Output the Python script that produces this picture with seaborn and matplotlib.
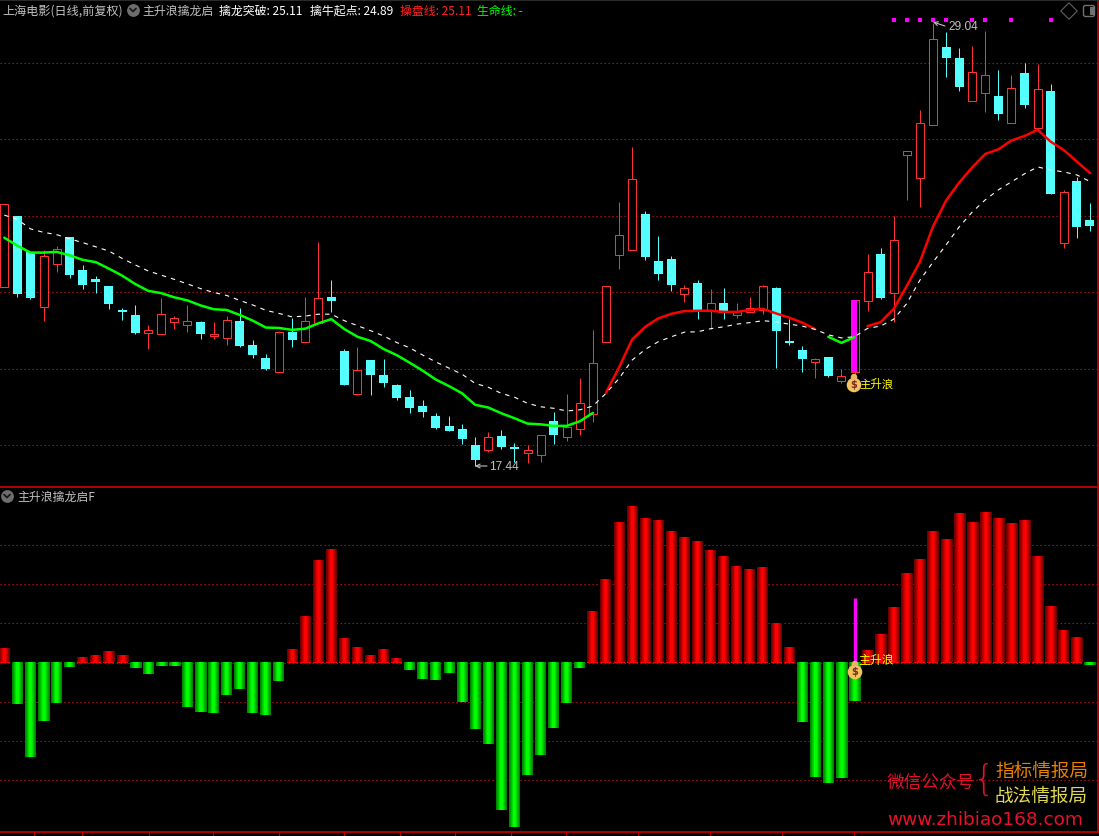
import numpy as np
import pandas as pd
import matplotlib
matplotlib.use('Agg')
import matplotlib.pyplot as plt
from matplotlib.colors import LinearSegmentedColormap
from matplotlib.patches import FancyBboxPatch, Rectangle
import seaborn as sns

# Daily candles
open_px = [22.14, 23.99, 23.05, 21.62, 22.74, 23.43, 22.58, 22.34, 22.16, 21.53, 21.40, 20.94,
           20.91, 21.22, 21.15, 21.22, 20.85, 20.81, 21.24, 20.61, 20.27, 19.92, 20.95, 20.70,
           21.18, 21.87, 20.46, 19.34, 20.22, 19.83, 19.57, 19.25, 19.02, 18.76, 18.50, 18.42,
           18.00, 17.87, 18.24, 17.95, 17.80, 17.75, 18.63, 18.22, 18.43, 18.82, 20.70, 22.98,
           23.11, 24.04, 22.81, 22.86, 21.96, 22.24, 21.50, 21.70, 21.41, 21.48, 21.53, 22.10,
           20.72, 20.48, 20.18, 20.30, 19.68, 19.90, 21.77, 22.99, 21.98, 25.59, 24.99, 26.37,
           28.41, 28.12, 27.00, 27.21, 27.12, 26.43, 27.73, 26.30, 27.25, 23.29, 24.90, 23.88]
close_px = [24.29, 21.95, 21.84, 22.93, 23.12, 22.44, 22.18, 22.26, 21.69, 21.48, 20.93, 21.01,
            21.42, 21.31, 21.23, 20.90, 20.90, 21.26, 20.59, 20.35, 19.99, 20.95, 20.75, 21.23,
            21.84, 21.76, 19.57, 19.95, 19.83, 19.62, 19.23, 18.97, 18.86, 18.44, 18.37, 18.16,
            17.61, 18.20, 17.95, 17.90, 17.86, 18.25, 18.26, 18.46, 19.09, 20.14, 22.15, 23.48,
            24.95, 22.92, 22.47, 22.18, 22.10, 21.51, 21.70, 21.46, 21.50, 21.57, 22.15, 20.98,
            20.67, 20.25, 20.25, 19.80, 19.80, 21.78, 22.52, 21.84, 23.35, 25.68, 26.41, 28.61,
            28.12, 27.36, 27.74, 27.67, 26.65, 27.33, 26.89, 27.30, 24.56, 24.61, 23.70, 23.73]
high_px = [24.29, 23.99, 23.05, 23.10, 23.20, 23.44, 22.71, 22.42, 22.16, 21.58, 21.66, 21.14,
           21.84, 21.37, 21.66, 21.24, 21.22, 21.37, 21.58, 20.75, 20.38, 20.98, 21.32, 21.87,
           23.31, 22.31, 20.51, 20.56, 20.22, 20.25, 19.59, 19.44, 19.18, 18.84, 18.76, 18.55,
           18.21, 18.34, 18.39, 18.05, 18.00, 18.25, 18.86, 19.33, 19.75, 21.01, 22.15, 24.35,
           25.79, 24.12, 23.46, 22.94, 22.18, 22.31, 22.08, 22.10, 21.71, 21.87, 22.18, 22.13,
           21.29, 20.59, 20.27, 20.30, 19.99, 21.78, 22.99, 23.15, 23.99, 25.68, 26.76, 29.04,
           28.80, 28.38, 28.43, 28.82, 27.80, 27.67, 27.99, 27.96, 27.44, 24.67, 25.01, 24.33]
low_px = [22.14, 21.88, 21.82, 21.25, 22.53, 22.37, 22.08, 21.97, 21.56, 21.27, 20.90, 20.51,
          20.91, 21.03, 20.95, 20.77, 20.77, 20.61, 20.56, 20.27, 19.96, 19.92, 20.56, 20.70,
          21.18, 21.48, 19.57, 19.32, 19.31, 19.52, 19.18, 18.84, 18.73, 18.42, 18.37, 18.03,
          17.44, 17.82, 17.90, 17.56, 17.53, 17.56, 18.03, 18.10, 18.26, 18.60, 20.70, 22.60,
          23.11, 22.84, 22.31, 22.03, 21.74, 21.29, 21.03, 21.29, 21.33, 21.48, 21.42, 20.01,
          20.61, 19.91, 19.75, 19.78, 19.62, 19.70, 21.50, 21.82, 21.22, 24.41, 24.23, 26.37,
          27.62, 27.25, 27.00, 26.71, 26.50, 26.43, 26.81, 26.30, 24.56, 23.15, 23.41, 23.59]

# 操盘线 (solid) and 擒牛起点 (dashed)
trade_line = [23.42, 23.21, 23.03, 23.03, 23.05, 22.96, 22.84, 22.78, 22.61, 22.43, 22.21, 22.03,
              21.97, 21.86, 21.78, 21.65, 21.55, 21.53, 21.40, 21.25, 21.07, 21.06, 21.01, 21.04,
              21.18, 21.29, 21.03, 20.83, 20.72, 20.51, 20.35, 20.15, 19.94, 19.71, 19.54, 19.35,
              19.05, 18.98, 18.83, 18.70, 18.56, 18.54, 18.50, 18.50, 18.62, 18.84, 19.37, 20.03,
              20.76, 21.09, 21.31, 21.43, 21.50, 21.51, 21.51, 21.48, 21.48, 21.53, 21.56, 21.44,
              21.33, 21.20, 21.03, 20.83, 20.67, 20.82, 21.11, 21.21, 21.56, 22.16, 22.79, 23.71,
              24.39, 24.86, 25.26, 25.61, 25.73, 25.96, 26.08, 26.24, 25.93, 25.71, 25.41, 25.11]
bull_line = [24.01, 23.90, 23.65, 23.56, 23.50, 23.39, 23.29, 23.18, 23.07, 22.88, 22.71, 22.55,
             22.44, 22.33, 22.21, 22.09, 21.99, 21.91, 21.78, 21.66, 21.52, 21.44, 21.35, 21.37,
             21.42, 21.42, 21.25, 21.12, 20.99, 20.85, 20.68, 20.54, 20.35, 20.17, 20.01, 19.85,
             19.61, 19.51, 19.35, 19.25, 19.09, 19.00, 18.96, 18.89, 18.92, 19.02, 19.35, 19.74,
             20.22, 20.50, 20.70, 20.83, 20.95, 20.96, 21.04, 21.09, 21.16, 21.20, 21.25, 21.22,
             21.16, 21.11, 21.02, 20.88, 20.80, 20.83, 21.05, 21.11, 21.29, 21.70, 22.31, 22.78,
             23.23, 23.70, 24.09, 24.41, 24.67, 24.88, 25.09, 25.27, 25.19, 25.14, 25.06, 24.89]
line_segments = [(0, 45, '#00ff00'), (46, 62, '#ff0000'), (63, 65, '#00ff00'), (66, 83, '#ff0000')]

# Purple dots along the top of the price panel
signal_days = [68, 69, 70, 71, 72, 74, 75, 77, 80]
signal_level = 29.10
start_day = 65

# Lower panel histogram
hist_values = [0.34, -1.06, -2.40, -1.49, -1.03, -0.11, 0.11, 0.17, 0.27, 0.17, -0.14, -0.29,
               -0.09, -0.09, -1.13, -1.26, -1.28, -0.83, -0.67, -1.28, -1.34, -0.47, 0.32, 1.16,
               2.58, 2.86, 0.60, 0.37, 0.17, 0.32, 0.09, -0.19, -0.42, -0.45, -0.27, -1.01,
               -1.69, -2.07, -3.75, -4.19, -2.86, -2.35, -1.67, -1.03, -0.14, 1.28, 2.10, 3.55,
               3.96, 3.65, 3.60, 3.32, 3.17, 3.07, 2.84, 2.69, 2.43, 2.35, 2.40, 0.98,
               0.37, -1.51, -2.91, -3.07, -2.94, -0.98, 0.29, 0.70, 1.39, 2.25, 2.61, 3.32,
               3.12, 3.78, 3.55, 3.80, 3.65, 3.52, 3.60, 2.69, 1.41, 0.80, 0.62, -0.07]
start_stick = 1.64

# Date ticks under the lower panel
date_ticks = [2.27, 5.94, 11.06, 15.95, 21.0, 25.97, 30.25, 34.48, 38.74, 42.94, 48.45, 53.95, 59.48, 64.96]

price_grid = [18, 20, 22, 24, 26, 28]
hist_grid = [-3, -2, -1, 0, 1, 2, 3]

W, H = 1099, 836
BAR_STEP = 13.08
BORDER = '#c00000'
GRID = '#e00000'
CANDLE_RED = '#ff3232'
CANDLE_CYAN = '#54ffff'
GREY = '#c0c0c0'
ONE_PX = 0.72

sns.set_theme(style='dark')
plt.rcParams['font.family'] = ['Noto Sans CJK SC', 'DejaVu Sans']
plt.rcParams['axes.unicode_minus'] = False

fig = plt.figure(figsize=(W / 100, H / 100), dpi=100, facecolor='black')
ax_top = fig.add_axes([0, 1 - 487 / H, 1098 / W, 487 / H], facecolor='black')
ax_low = fig.add_axes([0, 1 - 832 / H, 1098 / W, (832 - 487) / H], facecolor='black')
overlay = fig.add_axes([0, 0, 1, 1], facecolor='none', zorder=10)

days = np.arange(len(open_px))
df = pd.DataFrame({'day': days, 'open': open_px, 'close': close_px, 'high': high_px, 'low': low_px,
                   'trade': trade_line, 'bull': bull_line, 'hist': hist_values})
rising = df['close'] >= df['open']
up = df[rising]
down = df[~rising]

# Candles, snapped so the 1px wicks stay bright
ax_top.vlines(up['day'], up['low'], up['high'], color=CANDLE_RED, lw=ONE_PX, zorder=2, snap=True)
ax_top.vlines(down['day'], down['low'], down['high'], color=CANDLE_CYAN, lw=ONE_PX, zorder=2, snap=True)
ax_top.bar(up['day'], up['close'] - up['open'], bottom=up['open'], width=8 / BAR_STEP,
           facecolor='black', edgecolor=CANDLE_RED, linewidth=ONE_PX, zorder=3, snap=True)
ax_top.bar(down['day'], down['open'] - down['close'], bottom=down['close'], width=9 / BAR_STEP,
           color=CANDLE_CYAN, linewidth=0, zorder=3, snap=True)
ax_top.bar([start_day], [close_px[start_day] - open_px[start_day]], bottom=[open_px[start_day]],
           width=6 / BAR_STEP, color='#ff00ff', linewidth=0, zorder=4)

# Solid and dashed lines
for first, last, col in line_segments:
    part = df.iloc[first:last + 1]
    sns.lineplot(x=part['day'].to_numpy(), y=part['trade'].to_numpy(), color=col, linewidth=1.8,
                 errorbar=None, ax=ax_top, zorder=5)
sns.lineplot(data=df, x='day', y='bull', color='white', linewidth=0.8, linestyle=(0, (4, 4.5)),
             errorbar=None, ax=ax_top, zorder=6)
sns.scatterplot(x=signal_days, y=[signal_level] * len(signal_days), color='#ff00ff', marker='s',
                s=5, linewidth=0, ax=ax_top, zorder=6)

# Histogram, bars shaded from dark edge to bright middle
bar_labels = np.where(df['hist'] >= 0, 'up', 'down')
sns.barplot(x=df['day'], y=df['hist'], hue=bar_labels, palette={'up': '#ff0000', 'down': '#00ff00'},
            dodge=False, native_scale=True, width=11 / BAR_STEP, saturation=1, legend=False,
            linewidth=0, ax=ax_low, zorder=3)
shade = np.array([[0.25, 0.4, 0.6, 0.8, 1, 1, 1, 0.8, 0.6, 0.4, 0.25]])
cmaps = {'up': LinearSegmentedColormap.from_list('r', ['#400000', '#ff0000']),
         'down': LinearSegmentedColormap.from_list('g', ['#006000', '#00ff00'])}
for bar in list(ax_low.patches):
    h = bar.get_height()
    if h == 0 or np.isnan(h):
        continue
    x0 = bar.get_x()
    ax_low.imshow(shade, extent=(x0, x0 + bar.get_width(), 0, h), origin='lower', aspect='auto',
                  cmap=cmaps['up' if h > 0 else 'down'], vmin=0, vmax=1, interpolation='bilinear', zorder=4)
ax_low.vlines([start_day], 0, start_stick, color='#ff00ff', lw=2.4, zorder=5)

# Scales: same day axis on both panels
for ax in (ax_top, ax_low):
    ax.set_xlim(-4.3 / BAR_STEP, (1098 - 4.3) / BAR_STEP)
    ax.set_xlabel('')
    ax.set_ylabel('')
    ax.set_axisbelow(True)
    ax.grid(False)
    ax.yaxis.grid(True, color=GRID, linewidth=ONE_PX, linestyle=(0, (1.4, 2.6)))
    ax.tick_params(axis='y', length=0, labelleft=False)
    for side, spine in ax.spines.items():
        spine.set_visible(side in ('right', 'top', 'bottom'))
        spine.set_color(BORDER)
        spine.set_linewidth(1.3)
ax_top.set_ylim(18 + (445 - 487) / 38.25, 18 + 445 / 38.25)
ax_top.set_yticks(price_grid)
ax_top.set_xticks([])
ax_top.spines['top'].set_color('#303030')
ax_top.spines['bottom'].set_visible(False)
ax_low.set_ylim((662.5 - 832) / 39.3, (662.5 - 487) / 39.3)
ax_low.set_yticks(hist_grid)
ax_low.set_xticks(date_ticks)
ax_low.tick_params(axis='x', length=3, width=0.8, color=BORDER, labelbottom=False, bottom=True)

# Everything below sits on a pixel overlay: header text, icons and watermark
overlay.set_xlim(0, W)
overlay.set_ylim(H, 0)
overlay.axis('off')


def label(x, y, text, color=GREY, size=8.6, **kw):
    overlay.text(x, y, text, color=color, fontsize=size, va='center', **kw)


def round_icon(x, y):
    overlay.scatter([x], [y], s=85, color='#6e6e6e', linewidth=0)
    overlay.plot([x - 3, x, x + 3], [y - 1.5, y + 1.5, y - 1.5], color='#1a1a1a', lw=1.3)


def money_bag(x, y):
    overlay.scatter([x, x], [y + 3, y - 5], s=[110, 22], c=['#f2c25c', '#e8b860'], marker='o', linewidth=0)
    overlay.text(x, y + 3, '$', color='#7a2a20', fontsize=7, ha='center', va='center',
                 family='DejaVu Sans', fontweight='bold')


label(2, 11, '上海电影(日线,前复权)', size=8.7)
round_icon(133, 10)
label(142, 11, '主升浪擒龙启')
label(219, 11, '擒龙突破: 25.11', color='white')
label(310, 11, '擒牛起点: 24.89', color='white')
label(400, 11, '操盘线: 25.11', color='#ff2020')
label(477, 11, '生命线: -', color='#00ff00')

round_icon(7, 496)
label(17, 497, '主升浪擒龙启F')

overlay.scatter([1069], [11], s=70, marker='D', facecolor='none', edgecolor='#606060', linewidth=0.8)
overlay.add_patch(FancyBboxPatch((1084, 6), 10, 10, boxstyle='round,pad=0.5,rounding_size=2',
                                 facecolor='none', edgecolor='#707070', linewidth=1))
overlay.add_patch(Rectangle((1090, 7), 3.5, 8, color='#707070', linewidth=0))

label(489, 467, '17.44', family='Liberation Sans')
overlay.annotate('', xy=(475, 466), xytext=(487, 466),
                 arrowprops=dict(arrowstyle='->', color=GREY, lw=0.8, shrinkA=0, shrinkB=0, mutation_scale=7))
label(948, 27, '29.04', family='Liberation Sans')
overlay.annotate('', xy=(933, 22), xytext=(945, 26),
                 arrowprops=dict(arrowstyle='->', color=GREY, lw=0.8, shrinkA=0, shrinkB=0, mutation_scale=7))

money_bag(854, 382)
label(859, 384, '主升浪', color='#ffff00', size=8.2)
money_bag(855, 669)
label(858, 660, '主升浪', color='#ffff00', size=8.6)

label(887, 784, '微信公众号', color='#e0102c', size=12.7)
label(972, 780, '{', color='#e0102c', size=25, family='DejaVu Sans', fontweight='light')
label(995, 772, '指标情报局', color='#e88000', size=13.4)
label(995, 797, '战法情报局', color='#e0d850', size=13.4)
label(887, 820, 'www.zhibiao168.com', color='#e8102c', size=13.3, family='DejaVu Sans')

fig.savefig('out.png', dpi=100, facecolor='black')
